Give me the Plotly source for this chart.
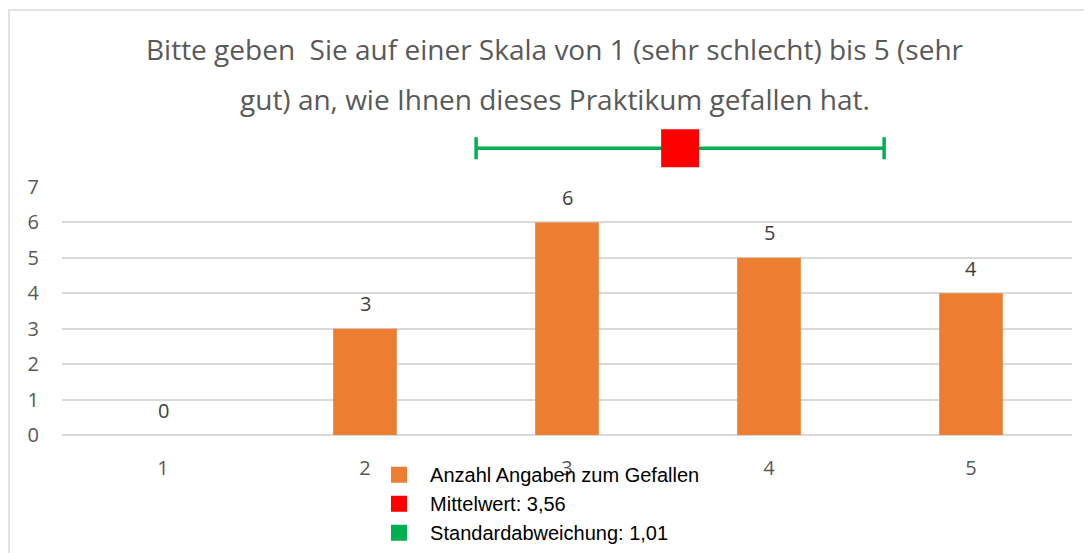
import plotly.graph_objects as go

categories = [1, 2, 3, 4, 5]
counts = [0, 3, 6, 5, 4]
mean_value = 3.56
std_value = 1.01
title_lines = ["Bitte geben  Sie auf einer Skala von 1 (sehr schlecht) bis 5 (sehr",
               "gut) an, wie Ihnen dieses Praktikum gefallen hat."]
legend_names = ["Anzahl Angaben zum Gefallen", "Mittelwert: 3,56", "Standardabweichung: 1,01"]

ORANGE = "#ED7D31"
RED = "#FF0000"
GREEN = "#00B050"
GRID = "#D9D9D9"
TXT = "#595959"

fig = go.Figure()

fig.add_trace(go.Bar(x=categories, y=counts, width=0.315, marker=dict(color=ORANGE, line=dict(width=0)),
                     showlegend=False, hoverinfo="x+y"))

fig.add_trace(go.Scatter(x=[mean_value], y=[0.5], yaxis="y2", mode="markers",
                         marker=dict(symbol="square", size=38, color=RED, line=dict(width=0)),
                         error_x=dict(type="data", array=[std_value], color=GREEN, thickness=3.5, width=11),
                         showlegend=False))

# legend entries
for name, col in zip(legend_names, [ORANGE, RED, GREEN]):
    fig.add_trace(go.Scatter(x=[None], y=[None], mode="markers", name="\u00a0\u00a0" + name,
                             marker=dict(symbol="square", size=16, color=col)))

# data labels
for c, v in zip(categories, counts):
    fig.add_annotation(x=c, y=v, text=str(v), showarrow=False, yshift=25,
                       font=dict(family="Open Sans", size=20, color="#404040"))

# title lines
for yc, line in zip([49, 99], title_lines):
    fig.add_annotation(xref="paper", yref="paper", x=0.488, y=(435 - yc) / 315,
                       text=line, showarrow=False, xanchor="center", yanchor="middle",
                       font=dict(family="Open Sans", size=28, color=TXT))

# chart frame
fig.add_shape(type="rect", xref="paper", yref="paper", x0=(9 - 62) / 1010, x1=1.06,
              y0=-0.5, y1=(435 - 10) / 315, line=dict(color=GRID, width=1.5), layer="below")

fig.update_layout(
    width=1084, height=545,
    margin=dict(l=54, r=20, t=112, b=118, autoexpand=False),
    paper_bgcolor="white", plot_bgcolor="white",
    xaxis=dict(range=[0.5, 5.5], tickvals=categories, showgrid=False, zeroline=False,
               showline=False, ticks="", ticklabelstandoff=19,
               tickfont=dict(family="Open Sans", size=20, color=TXT)),
    yaxis=dict(domain=[0, (435 - 187) / 315], range=[0, 7], dtick=1, showgrid=True,
               gridcolor=GRID, gridwidth=1.5, zeroline=True, zerolinecolor=GRID, zerolinewidth=1.5,
               showline=False, ticks="", ticklabelstandoff=22,
               tickfont=dict(family="Open Sans", size=20, color=TXT)),
    yaxis2=dict(domain=[0.82, 1.0], range=[0, 1], visible=False, anchor="x"),
    legend=dict(x=(379 - 62) / 1010, y=-0.064, xanchor="left", yanchor="top",
                bgcolor="rgba(0,0,0,0)", font=dict(family="Liberation Sans", size=20, color="black"),
                tracegroupgap=0),
    showlegend=True,
)

fig.write_html("out.html")
